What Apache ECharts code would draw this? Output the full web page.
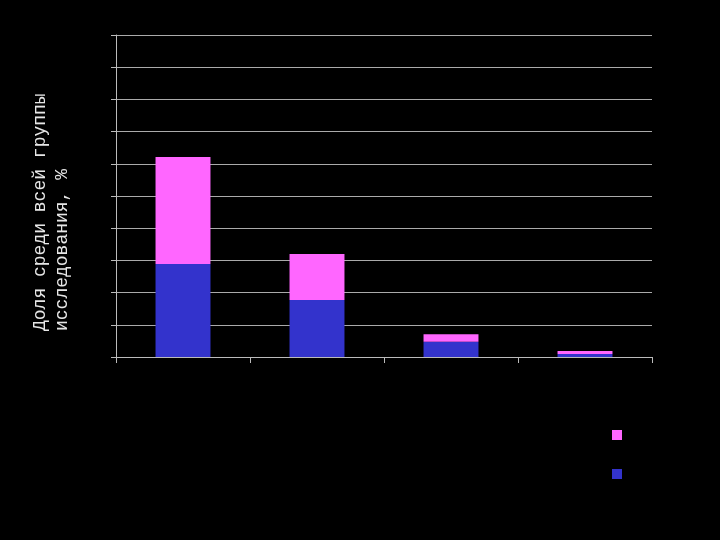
<!DOCTYPE html>
<html>
<head>
<meta charset="utf-8">
<script src="https://cdn.jsdelivr.net/npm/echarts@6/dist/echarts.min.js"></script>
<style>html,body{margin:0;padding:0;background:#000;}#c{width:720px;height:540px;}</style>
</head>
<body>
<div id="c"></div>
<script>
const categories = ['1', '2', '3', '4'];
const seriesBlue = [28.9, 17.7, 4.7, 0.9];
const seriesPink = [33.2, 14.3, 2.4, 1.0];
const yTitle = 'Доля среди всей группы\nисследования, %';

const chart = echarts.init(document.getElementById('c'));
chart.setOption({
  backgroundColor: '#000',
  animation: false,
  grid: { left: 116, right: 68, top: 35, bottom: 183 },
  legend: {
    orient: 'vertical',
    left: 607, top: 425,
    itemWidth: 10, itemHeight: 10, itemGap: 29,
    icon: 'rect',
    data: ['B', 'A'],
    formatter: function () { return ''; },
    selectedMode: false
  },
  graphic: [{
    type: 'text',
    x: 51, y: 331,
    rotation: Math.PI / 2,
    style: {
      text: yTitle,
      fill: '#e6e6e6',
      font: '18px "Liberation Mono", monospace',
      lineHeight: 22,
      align: 'left',
      verticalAlign: 'middle'
    }
  }],
  xAxis: {
    type: 'category',
    data: categories,
    axisLine: { lineStyle: { color: '#bbb', width: 1 } },
    axisTick: { show: true, length: 6, lineStyle: { color: '#bbb' } },
    axisLabel: { show: false }
  },
  yAxis: {
    type: 'value',
    min: 0, max: 100, interval: 10,
    axisLine: { show: true, lineStyle: { color: '#bbb' } },
    axisTick: { show: true, length: 5, lineStyle: { color: '#bbb' } },
    axisLabel: { show: false },
    splitLine: { lineStyle: { color: '#aaa', width: 1 } }
  },
  series: [
    { name: 'A', type: 'bar', stack: 's', data: seriesBlue, barWidth: '41%', itemStyle: { color: '#3333cc' } },
    { name: 'B', type: 'bar', stack: 's', data: seriesPink, barWidth: '41%', itemStyle: { color: '#ff66ff' } }
  ]
});
</script>
</body>
</html>
